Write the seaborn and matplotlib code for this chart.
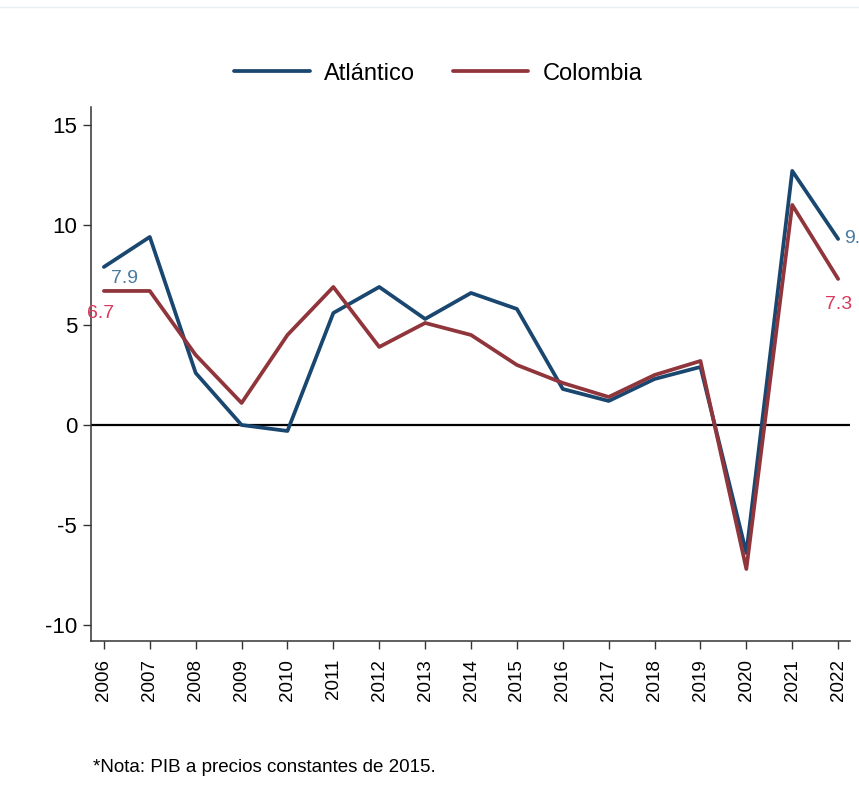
import numpy as np
import pandas as pd
import seaborn as sns
import matplotlib.pyplot as plt
from matplotlib.lines import Line2D

years = list(range(2006, 2023))
atlantico = [7.9, 9.4, 2.6, 0.0, -0.3, 5.6, 6.9, 5.3, 6.6, 5.8, 1.8, 1.2, 2.3, 2.9, -6.4, 12.7, 9.3]
colombia = [6.7, 6.7, 3.5, 1.1, 4.5, 6.9, 3.9, 5.1, 4.5, 3.0, 2.1, 1.4, 2.5, 3.2, -7.2, 11.0, 7.3]
series = ['Atlántico', 'Colombia']
nota = '*Nota: PIB a precios constantes de 2015.'

df = pd.DataFrame({
    'year': years * 2,
    'valor': atlantico + colombia,
    'serie': [series[0]] * len(years) + [series[1]] * len(years),
})

sns.set_style('ticks')
plt.rcParams['font.family'] = ['Liberation Sans', 'DejaVu Sans']
plt.rcParams['axes.unicode_minus'] = False

colors = {'Atlántico': '#1a476f', 'Colombia': '#90353b'}

fig = plt.figure(figsize=(8.59, 8.10), dpi=100)
ax = fig.add_axes([0.106, 0.2086, 0.8836, 0.6594])

sns.lineplot(data=df, x='year', y='valor', hue='serie', palette=colors,
             linewidth=2.7, ax=ax, legend=False)

ax.axhline(0, color='black', linewidth=1.6, zorder=1)
ax.set_xlim(2005.72, 2022.26)
ax.set_ylim(-10.8, 15.9)
ax.set_yticks([-10, -5, 0, 5, 10, 15])
ax.set_xticks(years)
ax.set_xticklabels([str(y) for y in years], rotation=90)
ax.tick_params(axis='y', labelsize=16, length=6, width=1, color='#333333',
               labelcolor='black', pad=4)
ax.tick_params(axis='x', labelsize=13.5, length=6, width=1, color='#333333',
               labelcolor='black', pad=7)
ax.set_xlabel('')
ax.set_ylabel('')
sns.despine(ax=ax)
for s in ['left', 'bottom']:
    ax.spines[s].set_color('#333333')
    ax.spines[s].set_linewidth(1.1)

# value labels at ends
ax.annotate(f'{atlantico[0]:.1f}', (years[0], atlantico[0]), xytext=(5, -2),
            textcoords='offset points', ha='left', va='top', fontsize=14, color='#4a7aa0')
ax.annotate(f'{colombia[0]:.1f}', (years[0], colombia[0]), xytext=(-12, -10),
            textcoords='offset points', ha='left', va='top', fontsize=14, color='#d83a5c')
ax.annotate(f'{atlantico[-1]:.1f}', (years[-1], atlantico[-1]), xytext=(4, 0),
            textcoords='offset points', ha='left', va='center', fontsize=14,
            color='#4a7aa0', annotation_clip=False)
ax.annotate(f'{colombia[-1]:.1f}', (years[-1], colombia[-1]), xytext=(0, -12),
            textcoords='offset points', ha='center', va='top', fontsize=14, color='#d83a5c')

handles = [Line2D([], [], color=colors[s], linewidth=2.7) for s in series]
fig.legend(handles, series, loc='center', bbox_to_anchor=(0.51, 0.909), ncol=2,
           frameon=False, fontsize=17, handlelength=3.2, columnspacing=1.6,
           handletextpad=0.6, labelcolor='black')

fig.text(0.108, 0.053, nota, fontsize=13.5, color='black', ha='left', va='center')

fig.add_artist(Line2D([0.0, 1.0], [0.991, 0.991], color='#e8eef0', linewidth=1,
                      transform=fig.transFigure))

fig.savefig('out.png', dpi=100, facecolor='white')
